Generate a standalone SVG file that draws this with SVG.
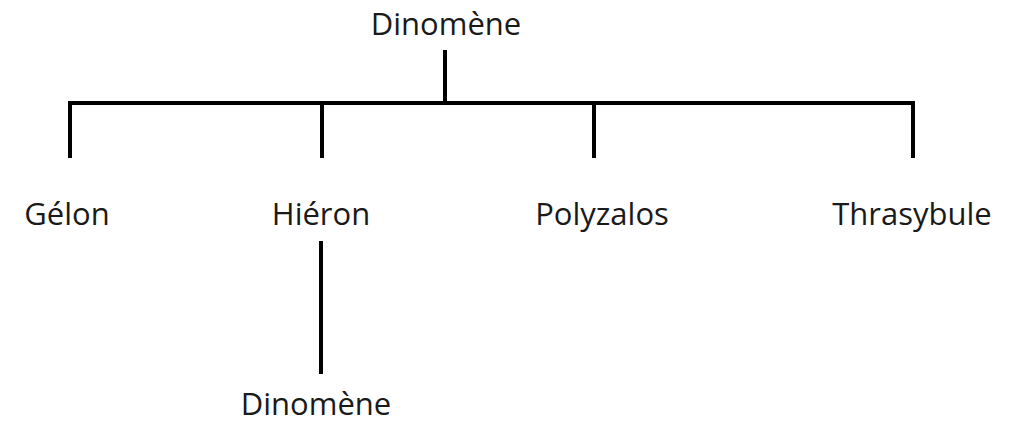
<svg xmlns="http://www.w3.org/2000/svg" width="1011" height="433" viewBox="0 0 1011 433">
<style>
text{font-family:"Open Sans","Liberation Sans",sans-serif;font-size:31px;fill:#1a1a1a;text-anchor:middle}
.c line{stroke:#000;stroke-width:4;stroke-linecap:butt}
</style>
<rect width="1011" height="433" fill="#fff"/>
<g class="c" id="connectors">
<line x1="445" y1="50" x2="445" y2="103"/>
<line x1="68" y1="103" x2="915" y2="103"/>
<line x1="70" y1="101" x2="70" y2="158"/>
<line x1="322" y1="103" x2="322" y2="158"/>
<line x1="594" y1="103" x2="594" y2="158"/>
<line x1="913" y1="101" x2="913" y2="158"/>
<line x1="321" y1="241" x2="321" y2="374"/>
</g>
<g id="n-dinomene-top"><text x="446" y="35">Dinomène</text></g>
<g id="n-gelon"><text x="67" y="225">Gélon</text></g>
<g id="n-hieron"><text x="321" y="225">Hiéron</text></g>
<g id="n-polyzalos"><text x="602" y="225">Polyzalos</text></g>
<g id="n-thrasybule"><text x="912" y="225">Thrasybule</text></g>
<g id="n-dinomene-bottom"><text x="316" y="415">Dinomène</text></g>
</svg>
